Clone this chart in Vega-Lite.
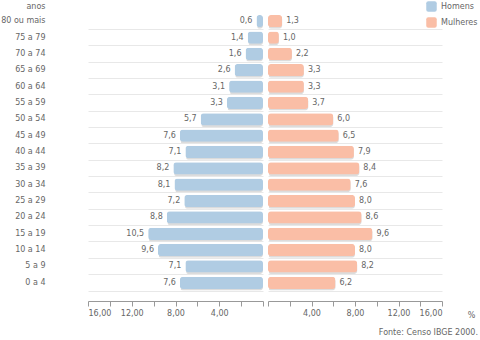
{
  "$schema": "https://vega.github.io/schema/vega-lite/v6.json",
  "padding": {"left": 0, "top": 1, "right": 2, "bottom": 0},
  "background": "white",
  "config": {
    "view": {"stroke": null},
    "font": "DejaVu Sans",
    "locale": {"number": {"decimal": ",", "thousands": ".", "grouping": [3], "currency": ["R$", ""]}},
    "axis": {"labelFont": "DejaVu Sans", "labelFontSize": 8, "labelColor": "#666", "titleFont": "DejaVu Sans", "titleFontSize": 8, "titleColor": "#666", "titleFontWeight": "normal"},
    "legend": {"labelFont": "DejaVu Sans", "labelFontSize": 8, "labelColor": "#666"}
  },
  "title": {"text": "Fonte: Censo IBGE 2000.", "orient": "bottom", "anchor": "end", "fontSize": 8, "fontWeight": "normal", "color": "#666", "font": "DejaVu Sans", "offset": 10},
  "data": {"values": [
    {"idade": "80 ou mais", "sexo": "Homens", "pct": 0.6},
    {"idade": "75 a 79", "sexo": "Homens", "pct": 1.4},
    {"idade": "70 a 74", "sexo": "Homens", "pct": 1.6},
    {"idade": "65 a 69", "sexo": "Homens", "pct": 2.6},
    {"idade": "60 a 64", "sexo": "Homens", "pct": 3.1},
    {"idade": "55 a 59", "sexo": "Homens", "pct": 3.3},
    {"idade": "50 a 54", "sexo": "Homens", "pct": 5.7},
    {"idade": "45 a 49", "sexo": "Homens", "pct": 7.6},
    {"idade": "40 a 44", "sexo": "Homens", "pct": 7.1},
    {"idade": "35 a 39", "sexo": "Homens", "pct": 8.2},
    {"idade": "30 a 34", "sexo": "Homens", "pct": 8.1},
    {"idade": "25 a 29", "sexo": "Homens", "pct": 7.2},
    {"idade": "20 a 24", "sexo": "Homens", "pct": 8.8},
    {"idade": "15 a 19", "sexo": "Homens", "pct": 10.5},
    {"idade": "10 a 14", "sexo": "Homens", "pct": 9.6},
    {"idade": "5 a 9", "sexo": "Homens", "pct": 7.1},
    {"idade": "0 a 4", "sexo": "Homens", "pct": 7.6},
    {"idade": "80 ou mais", "sexo": "Mulheres", "pct": 1.3},
    {"idade": "75 a 79", "sexo": "Mulheres", "pct": 1.0},
    {"idade": "70 a 74", "sexo": "Mulheres", "pct": 2.2},
    {"idade": "65 a 69", "sexo": "Mulheres", "pct": 3.3},
    {"idade": "60 a 64", "sexo": "Mulheres", "pct": 3.3},
    {"idade": "55 a 59", "sexo": "Mulheres", "pct": 3.7},
    {"idade": "50 a 54", "sexo": "Mulheres", "pct": 6.0},
    {"idade": "45 a 49", "sexo": "Mulheres", "pct": 6.5},
    {"idade": "40 a 44", "sexo": "Mulheres", "pct": 7.9},
    {"idade": "35 a 39", "sexo": "Mulheres", "pct": 8.4},
    {"idade": "30 a 34", "sexo": "Mulheres", "pct": 7.6},
    {"idade": "25 a 29", "sexo": "Mulheres", "pct": 8.0},
    {"idade": "20 a 24", "sexo": "Mulheres", "pct": 8.6},
    {"idade": "15 a 19", "sexo": "Mulheres", "pct": 9.6},
    {"idade": "10 a 14", "sexo": "Mulheres", "pct": 8.0},
    {"idade": "5 a 9", "sexo": "Mulheres", "pct": 8.2},
    {"idade": "0 a 4", "sexo": "Mulheres", "pct": 6.2}
  ]},
  "spacing": 3,
  "hconcat": [
    {
      "width": 175,
      "height": 278,
      "transform": [{"filter": "datum.sexo == 'Homens'"}],
      "encoding": {
        "y": {"field": "idade", "type": "nominal", "sort": null,
          "scale": {"paddingInner": 0, "paddingOuter": 0},
          "axis": {"title": "anos", "titleAngle": 0, "titleAlign": "right", "titleBaseline": "middle", "titleX": -43, "titleY": -7,
            "labelPadding": 43, "ticks": false, "domain": false, "grid": true, "gridColor": "#e8e8e8", "bandPosition": 1}},
        "x": {"field": "pct", "type": "quantitative", "scale": {"domain": [0, 16], "reverse": true, "nice": false},
          "axis": {"title": null, "values": [0, 2, 4, 6, 8, 10, 12, 14, 16], "labelExpr": "datum.value == 0 || datum.value % 4 != 0 ? '' : format(datum.value, '.2f')",
            "grid": false, "offset": 10, "tickSize": 5, "domainColor": "#999", "tickColor": "#999", "labelPadding": 3}}
      },
      "layer": [
        {"mark": {"type": "bar", "cornerRadius": 3, "height": {"band": 0.75}, "color": "#dcdcdc", "xOffset": 1, "yOffset": 1.5}},
        {"mark": {"type": "bar", "cornerRadius": 3, "height": {"band": 0.75}},
          "encoding": {"color": {"field": "sexo", "type": "nominal", "scale": {"domain": ["Homens", "Mulheres"], "range": ["#b0cce3", "#fabea6"]},
            "legend": {"title": null, "orient": "none", "legendX": 338, "legendY": -12, "symbolType": "M -1 -0.6 Q -1 -1 -0.6 -1 L 0.6 -1 Q 1 -1 1 -0.6 L 1 0.6 Q 1 1 0.6 1 L -0.6 1 Q -1 1 -1 0.6 Z", "symbolSize": 110, "symbolStrokeWidth": 0, "rowPadding": 5, "padding": 0, "symbolOpacity": 1}}}},
        {"mark": {"type": "text", "align": "right", "baseline": "middle", "dx": -4, "fontSize": 8, "color": "#666"},
          "encoding": {"text": {"field": "pct", "type": "quantitative", "format": ".1f"}}}
      ]
    },
    {
      "width": 174,
      "height": 278,
      "transform": [{"filter": "datum.sexo == 'Mulheres'"}],
      "encoding": {
        "y": {"field": "idade", "type": "nominal", "sort": null,
          "scale": {"paddingInner": 0, "paddingOuter": 0},
          "axis": {"title": null, "labels": false, "ticks": false, "domain": false, "grid": true, "gridColor": "#e8e8e8", "bandPosition": 1}},
        "x": {"field": "pct", "type": "quantitative", "scale": {"domain": [0, 16], "nice": false},
          "axis": {"title": "%", "titleAngle": 0, "titleX": 203, "titleY": 14, "titleBaseline": "middle", "titleAlign": "center",
            "values": [0, 2, 4, 6, 8, 10, 12, 14, 16], "labelExpr": "datum.value == 0 || datum.value % 4 != 0 ? '' : format(datum.value, '.2f')",
            "grid": false, "offset": 10, "tickSize": 5, "domainColor": "#999", "tickColor": "#999", "labelPadding": 3}}
      },
      "layer": [
        {"mark": {"type": "bar", "cornerRadius": 3, "height": {"band": 0.75}, "color": "#dcdcdc", "xOffset": 1, "yOffset": 1.5}},
        {"mark": {"type": "bar", "cornerRadius": 3, "height": {"band": 0.75}},
          "encoding": {"color": {"field": "sexo", "type": "nominal", "scale": {"domain": ["Homens", "Mulheres"], "range": ["#b0cce3", "#fabea6"]}}}},
        {"mark": {"type": "text", "align": "left", "baseline": "middle", "dx": 4, "fontSize": 8, "color": "#666"},
          "encoding": {"text": {"field": "pct", "type": "quantitative", "format": ".1f"}}}
      ]
    }
  ]
}
